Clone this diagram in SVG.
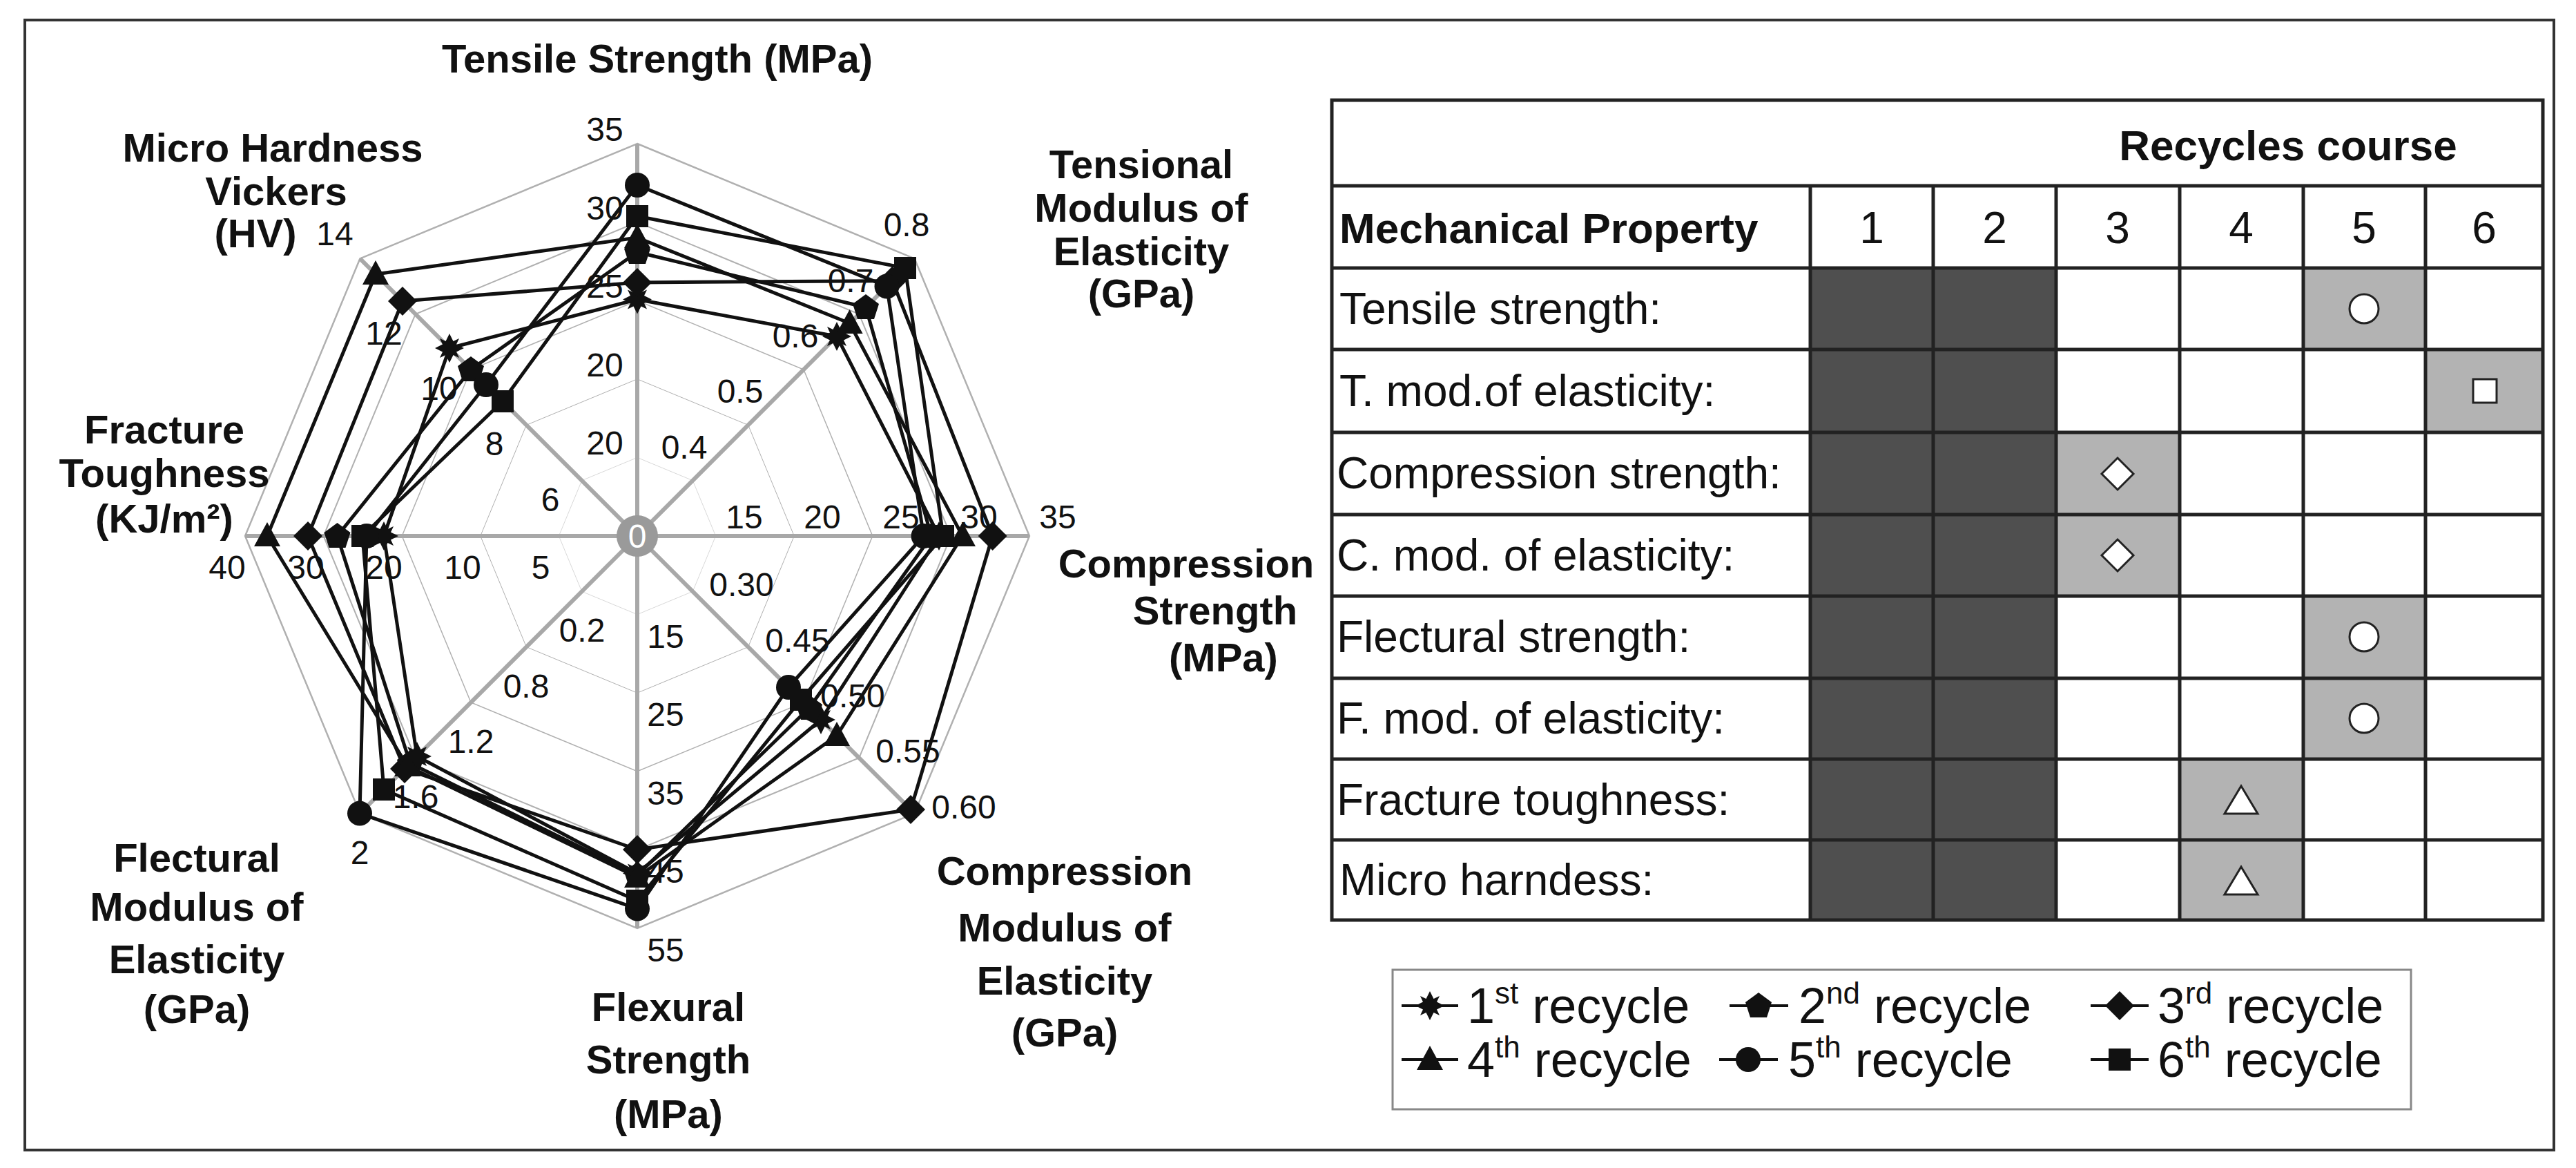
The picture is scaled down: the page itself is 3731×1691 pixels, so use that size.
<svg xmlns="http://www.w3.org/2000/svg" xmlns:xlink="http://www.w3.org/1999/xlink" width="3731" height="1691" viewBox="0 0 3731 1691">
<style>
.t{font-family:"Liberation Sans",Arial,sans-serif;fill:#111}
.b{font-weight:bold;font-size:58px;text-anchor:middle}
.k{font-size:48px;text-anchor:middle;dominant-baseline:central}
.ring{fill:none;stroke:#b0b0b0;stroke-width:2.5}
.ax{stroke:#a8a8a8;stroke-width:6}
.s{fill:none;stroke:#111;stroke-width:5;stroke-linejoin:round}
.cell{font-size:64px}
.num{font-size:64px;text-anchor:middle}
.g{fill:#b3b3b3}
.d{fill:#4f4f4f}
.wm{fill:#fff;stroke:#222;stroke-width:3}
.leg{font-size:72px}
</style>
<defs>
<polygon id="oct" points="0,-568 401.6,-401.6 568,0 401.6,401.6 0,568 -401.6,401.6 -568,0 -401.6,-401.6"/>
<polygon id="m1" fill="#111" points="0,-21 5.5,-10 14,-14 10,-5.5 21,0 10,5.5 14,14 5.5,10 0,21 -5.5,10 -14,14 -10,5.5 -21,0 -10,-5.5 -14,-14 -5.5,-10"/>
<polygon id="m2" fill="#111" points="0,-19 19,-5 12,17 -12,17 -19,-5"/>
<polygon id="m3" fill="#111" points="0,-21 21,0 0,21 -21,0"/>
<polygon id="m4" fill="#111" points="0,-20 19,15 -19,15"/>
<circle id="m5" fill="#111" r="18"/>
<rect id="m6" fill="#111" x="-16" y="-16" width="32" height="32"/>
</defs>
<rect x="36" y="29" width="3663" height="1636" fill="#fff" stroke="#333" stroke-width="4"/>
<g id="grid" transform="translate(923 776)">
<use href="#oct" class="ring"/>
<use href="#oct" class="ring" transform="scale(0.8)"/>
<use href="#oct" class="ring" transform="scale(0.6)"/>
<use href="#oct" class="ring" transform="scale(0.4)"/>
<use href="#oct" class="ring" transform="scale(0.2)"/>
<line class="ax" x1="0" y1="0" x2="0" y2="-568"/>
<line class="ax" x1="0" y1="0" x2="401.6" y2="-401.6"/>
<line class="ax" x1="0" y1="0" x2="568" y2="0"/>
<line class="ax" x1="0" y1="0" x2="401.6" y2="401.6"/>
<line class="ax" x1="0" y1="0" x2="0" y2="568"/>
<line class="ax" x1="0" y1="0" x2="-401.6" y2="401.6"/>
<line class="ax" x1="0" y1="0" x2="-568" y2="0"/>
<line class="ax" x1="0" y1="0" x2="-401.6" y2="-401.6"/>
</g>
<g id="ticks" class="t">
<text class="k" x="876" y="641">20</text><text class="k" x="876" y="528">20</text><text class="k" x="876" y="414">25</text><text class="k" x="876" y="301">30</text><text class="k" x="876" y="187">35</text>
<text class="k" x="991" y="647">0.4</text><text class="k" x="1072" y="566">0.5</text><text class="k" x="1152" y="486">0.6</text><text class="k" x="1232" y="406">0.7</text><text class="k" x="1313" y="325">0.8</text>
<text class="k" x="1078" y="748">15</text><text class="k" x="1191" y="748">20</text><text class="k" x="1305" y="748">25</text><text class="k" x="1418" y="748">30</text><text class="k" x="1532" y="748">35</text>
<text class="k" x="1074" y="846">0.30</text><text class="k" x="1155" y="927">0.45</text><text class="k" x="1235" y="1007">0.50</text><text class="k" x="1315" y="1087">0.55</text><text class="k" x="1396" y="1168">0.60</text>
<text class="k" x="964" y="921">15</text><text class="k" x="964" y="1034">25</text><text class="k" x="964" y="1148">35</text><text class="k" x="964" y="1261">45</text><text class="k" x="964" y="1375">55</text>
<text class="k" x="843" y="912">0.2</text><text class="k" x="762" y="993">0.8</text><text class="k" x="682" y="1073">1.2</text><text class="k" x="602" y="1153">1.6</text><text class="k" x="521" y="1234">2</text>
<text class="k" x="783" y="821">5</text><text class="k" x="670" y="821">10</text><text class="k" x="556" y="821">20</text><text class="k" x="443" y="821">30</text><text class="k" x="329" y="821">40</text>
<text class="k" x="797" y="723">6</text><text class="k" x="716" y="642">8</text><text class="k" x="636" y="562">10</text><text class="k" x="556" y="482">12</text><text class="k" x="485" y="338">14</text>
</g>
<g id="connectors">
<polygon class="s" points="923,433.5 1212,487 1360,776 1189,1042 923,1264.5 604,1095 556,776 651,504"/>
<polygon class="s" points="923,365 1254,445 1349,776 1172,1025 923,1267 594,1105 488.5,776 682,535"/>
<polygon class="s" points="923,409 1292.5,406.5 1437.6,776 1319,1172 923,1230 586,1113 446,776 583,436"/>
<polygon class="s" points="923,344 1230.6,468 1394,776 1212,1065 923,1270 590,1109 387,776 544,397"/>
<polygon class="s" points="923,268 1284.5,414.5 1337.6,776 1142,995 923,1315.6 521,1177.6 531,776 704,557"/>
<polygon class="s" points="923,313 1311,388 1366,776 1160,1013 923,1304 556,1143 525,776 728,581"/>
</g>
<g id="markers">
<use href="#m1" x="923" y="433.5"/><use href="#m1" x="1212" y="487"/><use href="#m1" x="1360" y="776"/><use href="#m1" x="1189" y="1042"/><use href="#m1" x="923" y="1264.5"/><use href="#m1" x="604" y="1095"/><use href="#m1" x="556" y="776"/><use href="#m1" x="651" y="504"/>
<use href="#m2" x="923" y="365"/><use href="#m2" x="1254" y="445"/><use href="#m2" x="1349" y="776"/><use href="#m2" x="1172" y="1025"/><use href="#m2" x="923" y="1267"/><use href="#m2" x="594" y="1105"/><use href="#m2" x="488.5" y="776"/><use href="#m2" x="682" y="535"/>
<use href="#m3" x="923" y="409"/><use href="#m3" x="1292.5" y="406.5"/><use href="#m3" x="1437.6" y="776"/><use href="#m3" x="1319" y="1172"/><use href="#m3" x="923" y="1230"/><use href="#m3" x="586" y="1113"/><use href="#m3" x="446" y="776"/><use href="#m3" x="583" y="436"/>
<use href="#m4" x="923" y="344"/><use href="#m4" x="1230.6" y="468"/><use href="#m4" x="1394" y="776"/><use href="#m4" x="1212" y="1065"/><use href="#m4" x="923" y="1270"/><use href="#m4" x="590" y="1109"/><use href="#m4" x="387" y="776"/><use href="#m4" x="544" y="397"/>
<use href="#m5" x="923" y="268"/><use href="#m5" x="1284.5" y="414.5"/><use href="#m5" x="1337.6" y="776"/><use href="#m5" x="1142" y="995"/><use href="#m5" x="923" y="1315.6"/><use href="#m5" x="521" y="1177.6"/><use href="#m5" x="531" y="776"/><use href="#m5" x="704" y="557"/>
<use href="#m6" x="923" y="313"/><use href="#m6" x="1311" y="388"/><use href="#m6" x="1366" y="776"/><use href="#m6" x="1160" y="1013"/><use href="#m6" x="923" y="1304"/><use href="#m6" x="556" y="1143"/><use href="#m6" x="525" y="776"/><use href="#m6" x="728" y="581"/>
</g>
<g id="center"><circle cx="923" cy="776" r="30" fill="#9a9a9a"/><text class="t k" x="923" y="776" style="fill:#fff">0</text></g>
<g id="axis-titles" class="t b">
<text x="952" y="105">Tensile Strength (MPa)</text>
<text x="395" y="234">Micro Hardness</text><text x="400" y="297">Vickers</text><text x="370" y="358">(HV)</text>
<text x="1653" y="258">Tensional</text><text x="1653" y="321">Modulus of</text><text x="1653" y="384">Elasticity</text><text x="1653" y="445">(GPa)</text>
<text x="238" y="642">Fracture</text><text x="238" y="705">Toughness</text><text x="238" y="771">(KJ/m²)</text>
<text x="1718" y="836">Compression</text><text x="1760" y="904">Strength</text><text x="1772" y="972">(MPa)</text>
<text x="1542" y="1281">Compression</text><text x="1542" y="1363">Modulus of</text><text x="1542" y="1440">Elasticity</text><text x="1542" y="1515">(GPa)</text>
<text x="968" y="1478">Flexural</text><text x="968" y="1554">Strength</text><text x="968" y="1633">(MPa)</text>
<text x="285" y="1262">Flectural</text><text x="285" y="1333">Modulus of</text><text x="285" y="1409">Elasticity</text><text x="285" y="1481">(GPa)</text>
</g>
<g id="table">
<rect x="1929" y="145" width="1754" height="1187" fill="#fff"/>
<rect class="d" x="2622" y="388" width="356" height="944"/>
<rect class="g" x="3336" y="388" width="177" height="118"/>
<rect class="g" x="3513" y="506" width="170" height="120"/>
<rect class="g" x="2978" y="626" width="179" height="237"/>
<rect class="g" x="3336" y="863" width="177" height="236"/>
<rect class="g" x="3157" y="1099" width="179" height="233"/>
<g stroke="#222" stroke-width="5" fill="none">
<rect x="1929" y="145" width="1754" height="1187"/>
<line x1="1929" y1="269" x2="3683" y2="269"/>
<line x1="1929" y1="388" x2="3683" y2="388"/><line x1="1929" y1="506" x2="3683" y2="506"/><line x1="1929" y1="626" x2="3683" y2="626"/><line x1="1929" y1="745" x2="3683" y2="745"/><line x1="1929" y1="863" x2="3683" y2="863"/><line x1="1929" y1="982" x2="3683" y2="982"/><line x1="1929" y1="1099" x2="3683" y2="1099"/><line x1="1929" y1="1216" x2="3683" y2="1216"/>
<line x1="2622" y1="269" x2="2622" y2="1332"/><line x1="2800" y1="269" x2="2800" y2="1332"/><line x1="2978" y1="269" x2="2978" y2="1332"/><line x1="3157" y1="269" x2="3157" y2="1332"/><line x1="3336" y1="269" x2="3336" y2="1332"/><line x1="3513" y1="269" x2="3513" y2="1332"/>
</g>
<g class="t">
<text x="3314" y="232" style="font-weight:bold;font-size:62px;text-anchor:middle">Recycles course</text>
<text x="1940" y="352" style="font-weight:bold;font-size:62px">Mechanical Property</text>
<text class="num" x="2711" y="352">1</text><text class="num" x="2889" y="352">2</text><text class="num" x="3067" y="352">3</text><text class="num" x="3246" y="352">4</text><text class="num" x="3424" y="352">5</text><text class="num" x="3598" y="352">6</text>
<text class="cell" x="1940" y="469">Tensile strength:</text>
<text class="cell" x="1940" y="588">T. mod.of elasticity:</text>
<text class="cell" x="1936" y="707">Compression strength:</text>
<text class="cell" x="1936" y="826">C. mod. of elasticity:</text>
<text class="cell" x="1936" y="944">Flectural strength:</text>
<text class="cell" x="1936" y="1062">F. mod. of elasticity:</text>
<text class="cell" x="1936" y="1180">Fracture toughness:</text>
<text class="cell" x="1940" y="1296">Micro harndess:</text>
</g>
<circle class="wm" cx="3424" cy="447" r="21"/>
<rect class="wm" x="3582" y="549" width="34" height="34"/>
<polygon class="wm" points="3067,663 3090,686 3067,709 3044,686"/>
<polygon class="wm" points="3067,781 3090,804 3067,827 3044,804"/>
<circle class="wm" cx="3424" cy="922" r="21"/>
<circle class="wm" cx="3424" cy="1040" r="21"/>
<polygon class="wm" points="3246,1138 3270,1178 3222,1178"/>
<polygon class="wm" points="3246,1255 3270,1295 3222,1295"/>
</g>
<g id="legend">
<rect x="2017" y="1404" width="1475" height="202" fill="#fff" stroke="#888" stroke-width="3"/>
<g stroke="#111" stroke-width="4">
<line x1="2030" y1="1456" x2="2112" y2="1456"/><line x1="2505" y1="1456" x2="2590" y2="1456"/><line x1="3028" y1="1456" x2="3112" y2="1456"/>
<line x1="2030" y1="1534" x2="2112" y2="1534"/><line x1="2490" y1="1534" x2="2575" y2="1534"/><line x1="3028" y1="1534" x2="3112" y2="1534"/>
</g>
<use href="#m1" x="2071" y="1456"/><use href="#m2" x="2547" y="1456"/><use href="#m3" x="3070" y="1456"/>
<use href="#m4" x="2071" y="1534"/><use href="#m5" x="2532" y="1534"/><use href="#m6" x="3070" y="1534"/>
<g class="t leg">
<text x="2125" y="1481">1<tspan font-size="44" dy="-28">st</tspan><tspan dy="28"> recycle</tspan></text>
<text x="2605" y="1481">2<tspan font-size="44" dy="-28">nd</tspan><tspan dy="28"> recycle</tspan></text>
<text x="3125" y="1481">3<tspan font-size="44" dy="-28">rd</tspan><tspan dy="28"> recycle</tspan></text>
<text x="2125" y="1559">4<tspan font-size="44" dy="-28">th</tspan><tspan dy="28"> recycle</tspan></text>
<text x="2590" y="1559">5<tspan font-size="44" dy="-28">th</tspan><tspan dy="28"> recycle</tspan></text>
<text x="3125" y="1559">6<tspan font-size="44" dy="-28">th</tspan><tspan dy="28"> recycle</tspan></text>
</g>
</g>
</svg>
